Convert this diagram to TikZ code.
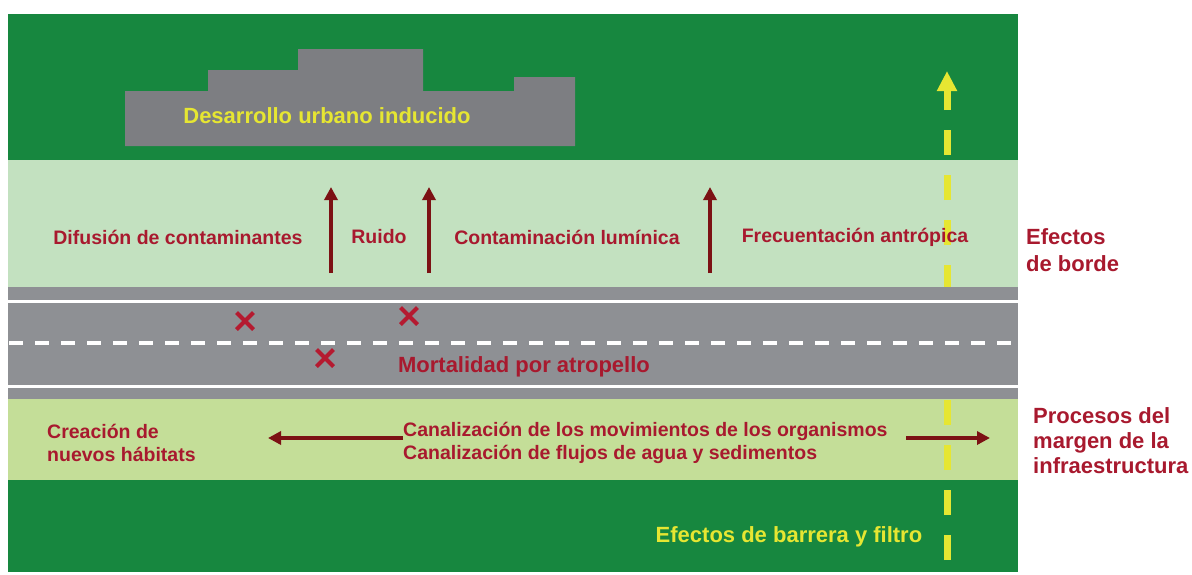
\documentclass[tikz,border=0pt]{standalone}
\usepackage{fontspec}
\setmainfont{Liberation Sans}
\usetikzlibrary{arrows.meta,shapes.misc}

\definecolor{darkgreen}{HTML}{17873F}
\definecolor{lightgreen}{HTML}{C3E1C0}
\definecolor{palegreen}{HTML}{C4DE98}
\definecolor{roadgray}{HTML}{8E9094}
\definecolor{towngray}{HTML}{7D7E82}
\definecolor{labelred}{HTML}{A8192E}
\definecolor{arrowred}{HTML}{7C1114}
\definecolor{crossred}{HTML}{B51A30}
\definecolor{markyellow}{HTML}{E6E632}

\tikzset{
  lbl/.style={text=labelred, inner sep=0pt, font=\bfseries\fontsize{19.5}{23}\selectfont},
  big/.style={inner sep=0pt, font=\bfseries\fontsize{22}{26}\selectfont},
  effect/.style={arrowred, line width=4pt, -{Triangle[width=13pt,length=13pt]}},
  kill/.style={cross out, draw=crossred, line width=4pt, minimum size=13pt, inner sep=0pt}
}

\begin{document}
\begin{tikzpicture}[x=1pt,y=-1pt]
   \useasboundingbox (0,0) rectangle (1192,574);
   % Bands
   \fill[darkgreen] (8,14) rectangle (1018,160);
   \fill[lightgreen] (8,160) rectangle (1018,287);
   \fill[palegreen] (8,398) rectangle (1018,480);
   \fill[darkgreen] (8,480) rectangle (1018,572);
   % Town
   \fill[towngray] (125,146) -- (125,91) -- (208,91) -- (208,70) -- (298,70) -- (298,49)
      -- (423,49) -- (423,91) -- (514,91) -- (514,77) -- (575,77) -- (575,146) -- cycle;
   \node[big, text=markyellow] (town) at (327,116) {Desarrollo urbano inducido};
   % Barrier and filter
   \coordinate (barrierfoot) at (947,560);
   \coordinate (barriertip) at (947,71);
   \draw[markyellow, line width=7pt, dash pattern=on 25pt off 20pt,
      -{Triangle[width=19pt,length=20pt]}] (barrierfoot) -- (barriertip);
   \node[big, text=markyellow] (barrier) at (789,537) {Efectos de barrera y filtro};
   % Road
   \fill[roadgray] (8,287) rectangle (1018,399);
   \draw[white, line width=3pt] (8,301) -- (1018,301);
   \draw[white, line width=3pt] (8,386) -- (1018,386);
   \draw[white, line width=4pt, dash pattern=on 14pt off 12pt] (9,343) -- (1018,343);
   \node[kill] (kill1) at (245,321) {};
   \node[kill] (kill2) at (409,316) {};
   \node[kill] (kill3) at (325,358) {};
   \node[big, text=labelred] (roadkill) at (524,367) {Mortalidad por atropello};
   % Edge effects
   \node[lbl] (pollution) at (178,237) {Difusión de contaminantes};
   \node[lbl] (noise) at (379,237) {Ruido};
   \node[lbl] (lightpol) at (567,237) {Contaminación lumínica};
   \node[lbl] (visits) at (855,237) {Frecuentación antrópica};
   \coordinate (root1) at (331,273);
   \coordinate (root2) at (429,273);
   \coordinate (root3) at (710,273);
   \coordinate (top1) at (331,187);
   \coordinate (top2) at (429,187);
   \coordinate (top3) at (710,187);
   \draw[effect] (root1) -- (top1);
   \draw[effect] (root2) -- (top2);
   \draw[effect] (root3) -- (top3);
   \node[big, text=labelred, align=left, anchor=west, font=\bfseries\fontsize{22}{27}\selectfont]
      (edge) at (1026,250) {Efectos\\de borde};
   % Margin processes
   \node[lbl, align=left, anchor=west] (habitats) at (47,443) {Creación de\\nuevos hábitats};
   \node[lbl, align=left, anchor=west] (channel) at (403,443)
      {Canalización de los movimientos de los organismos\\Canalización de flujos de agua y sedimentos};
   \coordinate (leftend) at (268,438);
   \coordinate (rightstart) at (906,438);
   \coordinate (rightend) at (990,438);
   \draw[effect] (channel.west |- leftend) -- (leftend);
   \draw[effect] (rightstart) -- (rightend);
   \node[big, text=labelred, align=left, anchor=west, font=\bfseries\fontsize{22}{25}\selectfont]
      (margin) at (1033,441) {Procesos del\\margen de la\\infraestructura};
\end{tikzpicture}
\end{document}
